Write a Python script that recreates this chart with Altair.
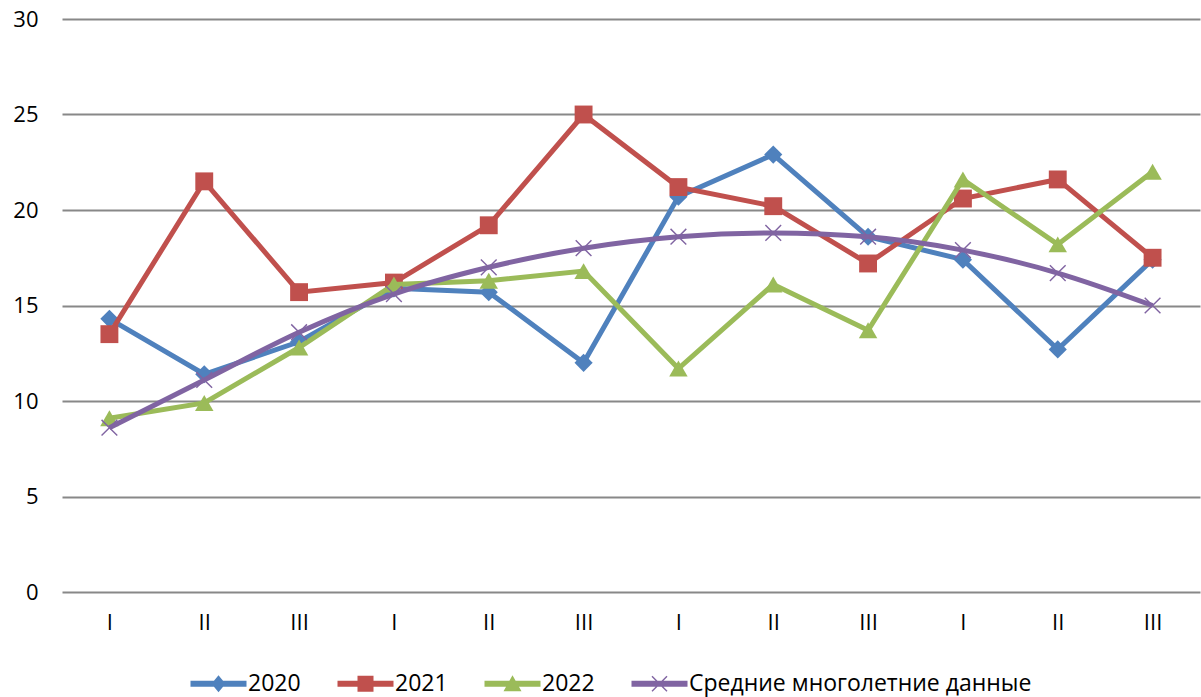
import altair as alt
import pandas as pd

periods = ["I", "II", "III", "I", "II", "III", "I", "II", "III", "I", "II", "III"]
series_names = ["2020", "2021", "2022", "Средние многолетние данные"]
v2020 = [14.3, 11.4, 13.1, 15.9, 15.7, 12.0, 20.7, 22.9, 18.6, 17.4, 12.7, 17.4]
v2021 = [13.5, 21.5, 15.7, 16.2, 19.2, 25.0, 21.2, 20.2, 17.2, 20.6, 21.6, 17.5]
v2022 = [9.1, 9.9, 12.8, 16.1, 16.3, 16.8, 11.7, 16.1, 13.7, 21.6, 18.2, 22.0]
v_avg = [8.6, 11.1, 13.6, 15.6, 17.0, 18.0, 18.6, 18.8, 18.6, 17.9, 16.7, 15.0]

colors = ["#4F81BD", "#C0504D", "#9BBB59", "#8064A2"]

X_PATH = ("M-1,-0.88L-0.88,-1L0,-0.12L0.88,-1L1,-0.88L0.12,0L1,0.88L0.88,1"
          "L0,0.12L-0.88,1L-1,0.88L-0.12,0Z")
marker_shapes = ["diamond", "square", "triangle-up", X_PATH]
marker_sizes = [330, 320, 340, 280]

LINE = "M-5.6,-0.6H5.6V0.6H-5.6Z "
legend_shapes = [
    LINE + "M0,-1.7L1.4,0L0,1.7L-1.4,0Z",
    LINE + "M-1.6,-1.6H1.6V1.6H-1.6Z",
    LINE + "M0,-1.7L1.8,1.5L-1.8,1.5Z",
    LINE + ("M-1.6,-1.4L-1.4,-1.6L0,-0.2L1.4,-1.6L1.6,-1.4L0.2,0L1.6,1.4L1.4,1.6"
            "L0,0.2L-1.4,1.6L-1.6,1.4L-0.2,0Z"),
]

all_values = [v2020, v2021, v2022, v_avg]
rows = []
for name, vals in zip(series_names, all_values):
    for i, (p, v) in enumerate(zip(periods, vals)):
        rows.append({"series": name, "idx": i, "period": p, "value": v})
df = pd.DataFrame(rows)

label_expr = "[" + ",".join("'%s'" % p for p in periods) + "][datum.value]"

x_enc = alt.X(
    "idx:O",
    scale=alt.Scale(type="point", padding=0.5),
    axis=alt.Axis(
        title=None, labelExpr=label_expr, labelAngle=0, domain=False, ticks=False,
        labelFontSize=22, labelFont="Open Sans", labelColor="#000000",
        labelPadding=20, grid=False,
    ),
)
y_enc = alt.Y(
    "value:Q",
    scale=alt.Scale(domain=[0, 30], nice=False),
    axis=alt.Axis(
        title=None, values=[0, 5, 10, 15, 20, 25, 30], domain=False, ticks=False,
        grid=True, gridColor="#888888", gridWidth=2,
        labelFontSize=22, labelFont="Open Sans", labelColor="#000000",
        labelPadding=24,
    ),
)

layers = []
for name, col, shp, sz in zip(series_names, colors, marker_shapes, marker_sizes):
    base = alt.Chart(df).transform_filter(alt.datum.series == name)
    interp = "monotone" if name == series_names[3] else "linear"
    line = base.mark_line(color=col, strokeWidth=5, interpolate=interp).encode(x=x_enc, y=y_enc)
    pts = base.mark_point(
        filled=True, color=col, shape=shp, size=sz, opacity=1, strokeWidth=0
    ).encode(x=x_enc, y=y_enc)
    layers += [line, pts]

legend_def = alt.Legend(
    title=None, orient="none", direction="horizontal",
    legendX=145, legendY=653, padding=0,
    labelFontSize=23, labelFont="Open Sans", labelColor="#000000",
    symbolSize=100, labelOffset=18, columnPadding=36,
    symbolStrokeWidth=0, labelLimit=1000,
)

legend_layer = (
    alt.Chart(df)
    .transform_filter("false")
    .mark_point(filled=True, opacity=1, size=100, strokeWidth=0)
    .encode(
        x=x_enc,
        y=y_enc,
        color=alt.Color(
            "series:N",
            scale=alt.Scale(domain=series_names, range=colors),
            legend=legend_def,
        ),
        shape=alt.Shape(
            "series:N",
            scale=alt.Scale(domain=series_names, range=legend_shapes),
            legend=legend_def,
        ),
    )
)

chart = (
    alt.layer(*layers, legend_layer)
    .properties(
        width=1138, height=573,
        autosize=alt.AutoSizeParams(type="none"),
        padding={"left": 62, "top": 19, "right": 1, "bottom": 105},
        background="white",
    )
    .configure_view(stroke=None)
)

chart.save("out.html", embed_options={"renderer": "svg", "actions": False})
